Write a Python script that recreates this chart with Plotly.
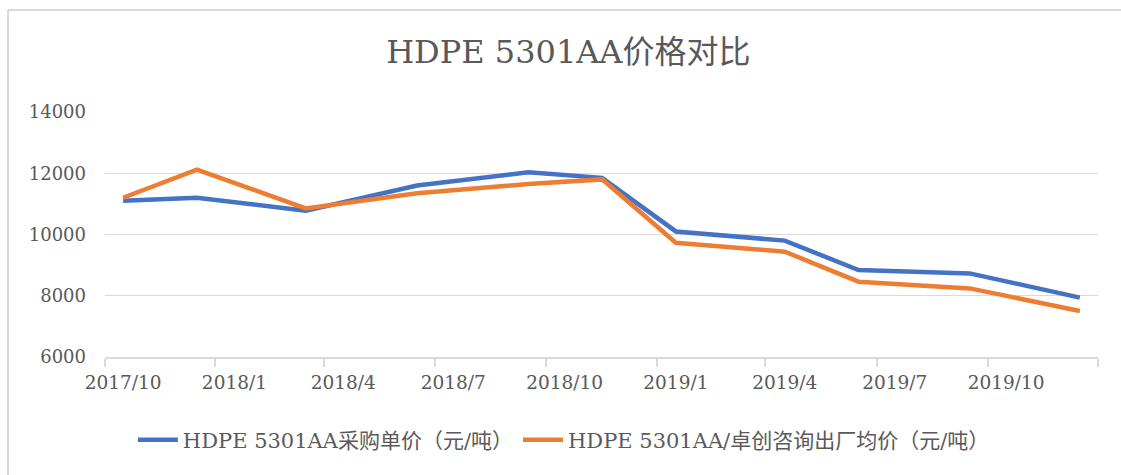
import plotly.graph_objects as go

# ---- data ----
dates = ["2017-10-01", "2017-12-01", "2018-03-01", "2018-06-01", "2018-09-01",
         "2018-11-01", "2019-01-01", "2019-04-01", "2019-06-01", "2019-09-01",
         "2019-12-01"]
purchase_price = [11100, 11200, 10780, 11600, 12030, 11850, 10100, 9800, 8840, 8730, 7940]
market_price = [11200, 12120, 10850, 11350, 11650, 11800, 9730, 9440, 8460, 8240, 7500]

tick_dates = ["2017-10-01", "2018-01-01", "2018-04-01", "2018-07-01", "2018-10-01",
              "2019-01-01", "2019-04-01", "2019-07-01", "2019-10-01"]
tick_labels = ["2017/10", "2018/1", "2018/4", "2018/7", "2018/10",
               "2019/1", "2019/4", "2019/7", "2019/10"]
minor_tick_dates = ["2017-09-16", "2017-12-16", "2018-03-16", "2018-06-16", "2018-09-16",
                    "2018-12-16", "2019-03-16", "2019-06-16", "2019-09-16", "2019-12-16"]

name_a = "HDPE 5301AA采购单价（元/吨）"
name_b = "HDPE 5301AA/卓创咨询出厂均价（元/吨）"
title_text = "HDPE 5301AA价格对比"

GRAY = "#595959"
GRID = "#D9D9D9"
FONT = "DejaVu Serif, Noto Sans CJK SC, serif"

fig = go.Figure()
fig.add_trace(go.Scatter(x=dates, y=purchase_price, mode="lines", name=name_a,
                         line=dict(color="#4472C4", width=4.5)))
fig.add_trace(go.Scatter(x=dates, y=market_price, mode="lines", name=name_b,
                         line=dict(color="#ED7D31", width=4.5)))

fig.update_layout(
    width=1121, height=475,
    margin=dict(l=105, r=23, t=112, b=118, autoexpand=False),
    paper_bgcolor="white", plot_bgcolor="white",
    title=dict(text=title_text, x=0.507, xref="container", y=1 - 52 / 475,
               yref="container", xanchor="center", yanchor="middle",
               font=dict(family=FONT, size=32, color=GRAY)),
    legend=dict(orientation="h", x=0.503, xref="container", xanchor="center",
                y=1 - 440 / 475, yref="container", yanchor="middle",
                font=dict(family=FONT, size=21, color=GRAY),
                itemwidth=40, tracegroupgap=0),
    showlegend=True,
    xaxis=dict(type="date", range=["2017-09-16", "2019-12-16"],
               tickmode="array", tickvals=tick_dates, ticktext=tick_labels,
               ticks="", showgrid=False, zeroline=False,
               showline=True, linecolor=GRID, linewidth=1.5,
               ticklabelstandoff=8,
               tickfont=dict(family=FONT, size=18.5, color=GRAY),
               minor=dict(tickmode="array", tickvals=minor_tick_dates,
                          ticks="outside", ticklen=8, tickcolor=GRID,
                          tickwidth=1.5, showgrid=False)),
    yaxis=dict(range=[6000, 14000], dtick=2000, tick0=6000, tickformat="d",
               showgrid=True, gridcolor=GRID, gridwidth=1.3,
               zeroline=False, showline=False, ticks="",
               ticklabelstandoff=18,
               tickfont=dict(family=FONT, size=18, color=GRAY)),
)

# outer chart border (top and left edges)
px_to_x = lambda px: (px - 105) / 993
px_to_y = lambda py: (357 - py) / 245
fig.add_shape(type="line", xref="paper", yref="paper",
              x0=px_to_x(8), x1=px_to_x(1121), y0=px_to_y(10), y1=px_to_y(10),
              line=dict(color=GRID, width=2))
fig.add_shape(type="line", xref="paper", yref="paper",
              x0=px_to_x(8), x1=px_to_x(8), y0=px_to_y(10), y1=px_to_y(475),
              line=dict(color=GRID, width=2))

fig.write_html("out.html", config={"displayModeBar": False},
               post_script="document.body.style.margin='0';document.body.style.padding='0';")
